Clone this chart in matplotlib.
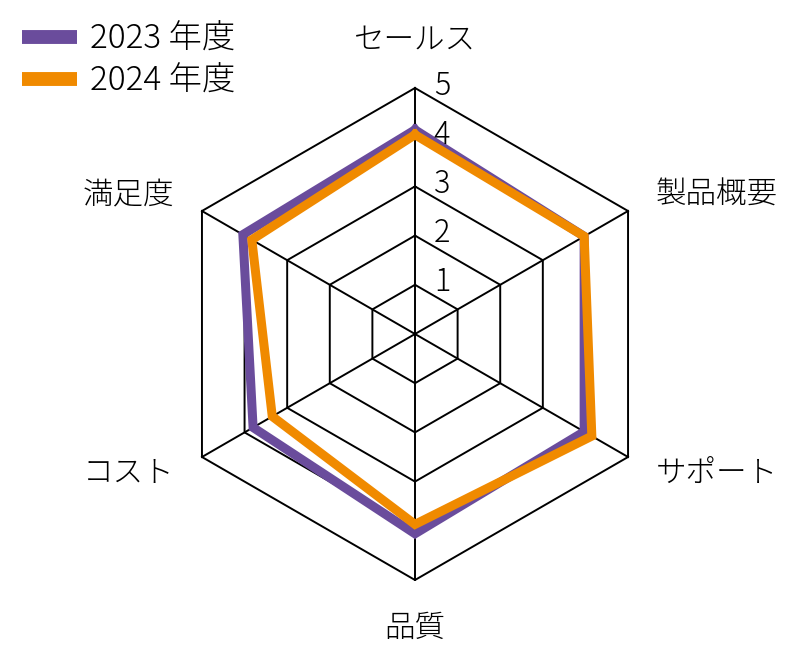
import numpy as np
import matplotlib
matplotlib.use("Agg")
import matplotlib.pyplot as plt

plt.rcParams["font.family"] = ["Noto Sans CJK JP", "DejaVu Sans"]
plt.rcParams["font.weight"] = "light"

categories = ["セールス", "製品概要", "サポート", "品質", "コスト", "満足度"]
series_names = ["2023 年度", "2024 年度"]
values_2023 = [4.15, 3.97, 3.97, 4.06, 3.80, 4.04]
values_2024 = [4.05, 3.97, 4.15, 3.87, 3.35, 3.83]
ring_levels = [1, 2, 3, 4, 5]
colors = ["#6a4c9c", "#f08a00"]

n = len(categories)
angles = np.pi / 2 - np.arange(n) * 2 * np.pi / n  # clockwise from top


def to_xy(vals):
    vals = np.asarray(vals, dtype=float)
    x = vals * np.cos(angles)
    y = vals * np.sin(angles)
    return np.append(x, x[0]), np.append(y, y[0])


fig = plt.figure(figsize=(8, 6.57), dpi=100)
ax = fig.add_axes([0, 0, 1, 1])
scale = 49.2
ax.set_xlim(-415 / scale, (800 - 415) / scale)
ax.set_ylim(-(657 - 334) / scale, 334 / scale)
ax.set_aspect("equal")
ax.axis("off")

# hexagon rings and spokes
for lvl in ring_levels:
    x, y = to_xy([lvl] * n)
    ax.plot(x, y, color="black", lw=1.4, zorder=1)
for a in angles:
    ax.plot([0, 5 * np.cos(a)], [0, 5 * np.sin(a)], color="black", lw=1.4, zorder=1)

# ring value labels beside the top spoke
for lvl in ring_levels:
    ax.text(0.55, lvl + 0.05, str(lvl), fontsize=22, ha="center", va="center",
            zorder=4)

# series
for vals, name, col, z in zip([values_2023, values_2024], series_names, colors, [2, 3]):
    x, y = to_xy(vals)
    ax.plot(x, y, color=col, lw=6.5, solid_joinstyle="miter", label=name, zorder=z)

# category labels
lab_r = 5.65
for a, cat in zip(angles, categories):
    cx, cy = lab_r * np.cos(a), lab_r * np.sin(a)
    if abs(np.cos(a)) < 1e-6:
        ha = "center"
        va = "bottom" if np.sin(a) > 0 else "top"
    else:
        ha = "left" if np.cos(a) > 0 else "right"
        va = "center"
    ax.text(cx, cy, cat, fontsize=22, ha=ha, va=va)

leg = ax.legend(loc="upper left", bbox_to_anchor=(0.0275, 0.967), frameon=False,
                fontsize=24, handlelength=1.65, handletextpad=0.39,
                labelspacing=0.25, borderaxespad=0, borderpad=0)
for h in leg.legend_handles:
    h.set_linewidth(10)
    h.set_solid_capstyle("butt")

fig.savefig("out.png", dpi=100)
